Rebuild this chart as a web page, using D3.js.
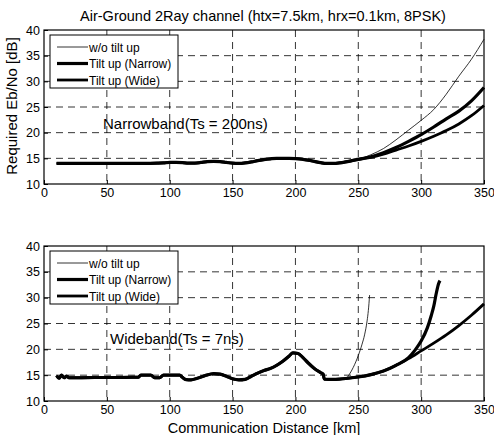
<!DOCTYPE html>
<html>
<head>
<meta charset="utf-8">
<script src="https://cdnjs.cloudflare.com/ajax/libs/d3/7.8.5/d3.min.js"></script>
<style>
  body { margin: 0; background: #fff; }
  svg { font-family: "Liberation Sans", Arial, sans-serif; }
</style>
</head>
<body>
<div class="chart"></div>
<script>
var xTicks = [0, 50, 100, 150, 200, 250, 300, 350];
var yTicks = [10, 15, 20, 25, 30, 35, 40];
var seriesNames = ["w/o tilt up", "Tilt up (Narrow)", "Tilt up (Wide)"];

// narrowband: shared part of all three curves
var nbCommonX = [10, 20, 30, 40, 50, 60, 70, 80, 90, 95, 100, 105, 110, 115, 120, 125, 130, 135, 140, 145, 150, 155, 160, 165, 170, 175, 180, 185, 190, 195, 200, 205, 210, 215, 220, 225, 230, 235, 240, 245, 250];
var nbCommonY = [14, 14, 14, 14, 14, 14, 14, 14, 14.05, 14.1, 14.2, 14.2, 14.15, 14.05, 14.05, 14.2, 14.35, 14.4, 14.35, 14.2, 14.05, 14.0, 14.1, 14.3, 14.55, 14.75, 14.9, 15.0, 15.0, 15.0, 14.95, 14.85, 14.65, 14.4, 14.15, 14.0, 14.0, 14.1, 14.3, 14.55, 14.8];
var nbTailX = [260, 270, 280, 290, 300, 310, 320, 330, 340, 350];
var nbWoY = [15.7, 16.9, 18.6, 20.5, 22.4, 24.5, 27.5, 31.0, 34.3, 38.2];
var nbNarrowY = [15.3, 16.1, 17.1, 18.3, 19.6, 21.1, 22.7, 24.2, 26.2, 28.8];
var nbWideY = [15.2, 15.8, 16.6, 17.4, 18.3, 19.3, 20.4, 21.7, 23.3, 25.3];

// wideband: shared part of all three curves
var wbCommonX = [10, 12, 14, 16, 18, 20, 30, 40, 50, 60, 70, 75, 77, 85, 88, 92, 95, 100, 108, 110, 113, 117, 122, 128, 135, 140, 145, 150, 155, 160, 165, 170, 175, 180, 185, 190, 195, 198, 202, 206, 210, 215, 220, 222, 223, 230, 235, 240];
var wbCommonY = [14.9, 14.4, 15.0, 14.5, 14.8, 14.5, 14.5, 14.55, 14.55, 14.55, 14.6, 14.6, 15.0, 15.0, 14.5, 14.5, 15.0, 15.0, 15.0, 14.6, 14.15, 14.1, 14.4, 14.9, 15.3, 15.2, 14.8, 14.3, 14.1, 14.2, 14.8, 15.4, 15.9, 16.3, 16.9, 17.7, 18.7, 19.3, 19.2, 18.4, 17.4, 16.3, 15.5, 15.2, 14.25, 14.2, 14.25, 14.35];
var wbWoX = [243, 246, 250, 253, 255, 257, 258, 259];
var wbWoY = [15.2, 16.5, 18.8, 21.0, 22.8, 25.5, 27.5, 30.5];
var wbWideX = [250, 260, 270, 280, 290, 300, 310, 320, 330, 340, 350];
var wbWideY = [14.65, 15.1, 15.8, 16.9, 18.2, 19.7, 21.2, 22.8, 24.6, 26.6, 28.8];
var wbNarrowX = [250, 260, 270, 280, 290, 295, 300, 305, 308, 310, 312, 314, 315];
var wbNarrowY = [14.65, 15.1, 15.8, 16.9, 18.4, 19.8, 21.6, 24.2, 26.5, 28.3, 30.8, 32.8, 33.3];

function pairs(xs, ys) {
  return xs.map(function(x, i) { return [x, ys[i]]; });
}

var w = 494, h = 435;
var left = 44, right = 484;

var svg = d3.select(".chart").append("svg")
  .attr("width", w)
  .attr("height", h);

var x = d3.scaleLinear().domain([0, 350]).range([left, right]);

var styles = [
  { width: 0.8 },
  { width: 3.2 },
  { width: 2.8 }
];

function drawPanel(top, bottom, lines, label, labelPos) {
  var y = d3.scaleLinear().domain([10, 40]).range([bottom, top]);
  var g = svg.append("g");

  // grid
  g.selectAll(".vg").data(xTicks.slice(1, -1)).enter().append("line")
    .attr("x1", function(d) { return x(d); }).attr("x2", function(d) { return x(d); })
    .attr("y1", top).attr("y2", bottom)
    .attr("stroke", "#000").attr("stroke-width", 0.8).attr("stroke-dasharray", "7,5");
  g.selectAll(".hg").data(yTicks.slice(1, -1)).enter().append("line")
    .attr("x1", left).attr("x2", right)
    .attr("y1", function(d) { return y(d); }).attr("y2", function(d) { return y(d); })
    .attr("stroke", "#000").attr("stroke-width", 0.8).attr("stroke-dasharray", "7,5");

  // curves
  var line = d3.line()
    .x(function(d) { return x(d[0]); })
    .y(function(d) { return y(d[1]); })
    .curve(d3.curveMonotoneX);
  lines.forEach(function(pts, i) {
    g.append("path")
      .attr("d", line(pts))
      .attr("fill", "none")
      .attr("stroke", "#000")
      .attr("stroke-width", styles[i].width)
      .attr("stroke-linejoin", "round");
  });

  // axes
  var xAxis = d3.axisBottom(x).tickValues(xTicks).tickSize(-4).tickPadding(4);
  var yAxis = d3.axisLeft(y).tickValues(yTicks).tickSize(-4).tickPadding(4);
  g.append("g").attr("transform", "translate(0," + bottom + ")").call(xAxis);
  g.append("g").attr("transform", "translate(" + left + ",0)").call(yAxis);
  g.selectAll(".domain").remove();
  g.selectAll(".tick line").attr("stroke", "#000");
  g.selectAll(".tick text").attr("font-size", 12.5).attr("fill", "#000")
    .attr("font-family", "Liberation Sans, Arial, sans-serif");

  g.append("rect")
    .attr("x", left).attr("y", top)
    .attr("width", right - left).attr("height", bottom - top)
    .attr("fill", "none").attr("stroke", "#000").attr("stroke-width", 1.2);

  // annotation
  g.append("text")
    .attr("x", labelPos[0]).attr("y", labelPos[1])
    .attr("font-size", 15)
    .text(label);

  // legend
  var lx = 50, ly = top + 5;
  g.append("rect")
    .attr("x", lx).attr("y", ly).attr("width", 128).attr("height", 53)
    .attr("fill", "#fff").attr("stroke", "#000").attr("stroke-width", 1);
  seriesNames.forEach(function(name, i) {
    var yy = ly + 12 + i * 16.5;
    g.append("line")
      .attr("x1", lx + 7).attr("x2", lx + 38)
      .attr("y1", yy).attr("y2", yy)
      .attr("stroke", "#000").attr("stroke-width", styles[i].width);
    g.append("text")
      .attr("x", lx + 39).attr("y", yy + 4.5)
      .attr("font-size", 12)
      .text(name);
  });
}

var nbCommon = pairs(nbCommonX, nbCommonY);
drawPanel(30, 184, [
  nbCommon.concat(pairs(nbTailX, nbWoY)),
  nbCommon.concat(pairs(nbTailX, nbNarrowY)),
  nbCommon.concat(pairs(nbTailX, nbWideY))
], "Narrowband(Ts = 200ns)", [103, 129]);

var wbCommon = pairs(wbCommonX, wbCommonY);
drawPanel(246, 401, [
  wbCommon.concat(pairs(wbWoX, wbWoY)),
  wbCommon.concat(pairs(wbNarrowX, wbNarrowY)),
  wbCommon.concat(pairs(wbWideX, wbWideY))
], "Wideband(Ts = 7ns)", [110, 344]);

svg.append("text")
  .attr("x", 263).attr("y", 21)
  .attr("text-anchor", "middle")
  .attr("font-size", 14.5)
  .text("Air-Ground 2Ray channel (htx=7.5km, hrx=0.1km, 8PSK)");

svg.append("text")
  .attr("transform", "translate(17,106) rotate(-90)")
  .attr("text-anchor", "middle")
  .attr("font-size", 15)
  .text("Required Eb/No [dB]");

svg.append("text")
  .attr("x", 264).attr("y", 433)
  .attr("text-anchor", "middle")
  .attr("font-size", 14.5)
  .text("Communication Distance [km]");
</script>
</body>
</html>
